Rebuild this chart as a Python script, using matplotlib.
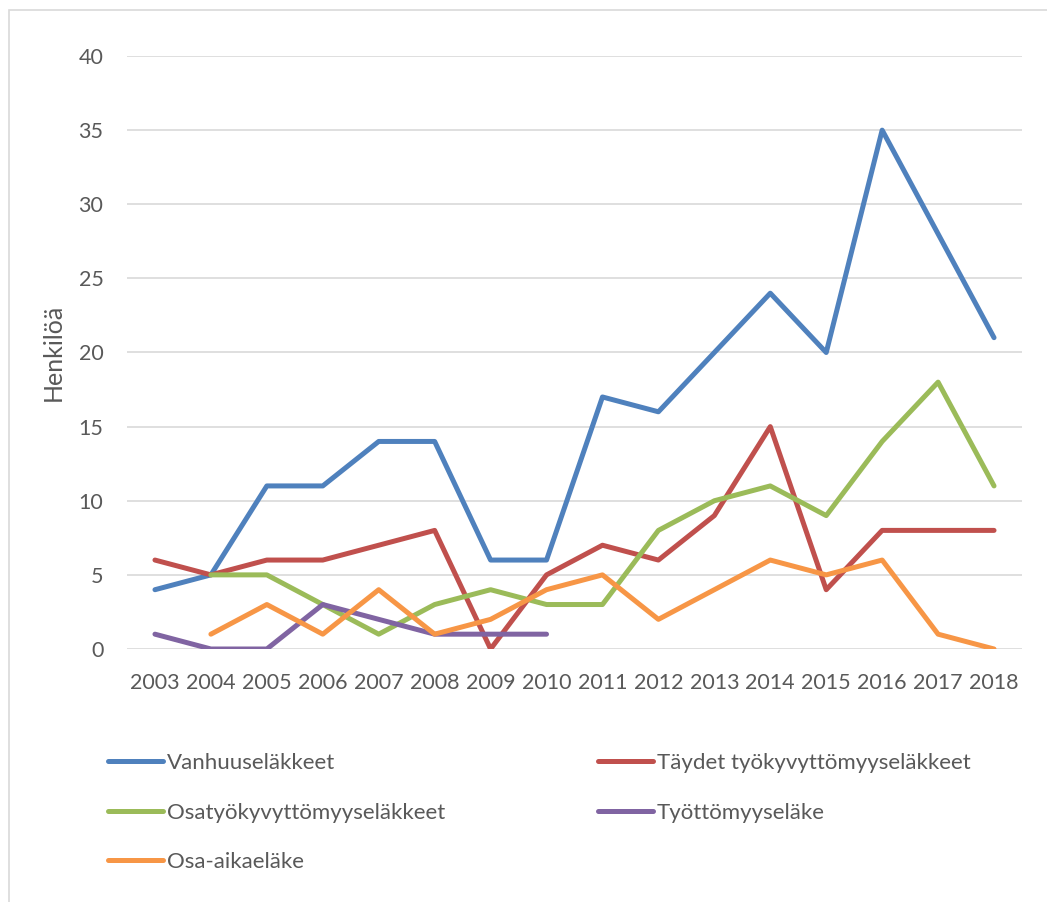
import matplotlib
matplotlib.use("Agg")
import matplotlib.pyplot as plt
from matplotlib.patches import Rectangle
import numpy as np

years = ["2003", "2004", "2005", "2006", "2007", "2008", "2009", "2010",
         "2011", "2012", "2013", "2014", "2015", "2016", "2017", "2018"]
vanhuus = [4, 5, 11, 11, 14, 14, 6, 6, 17, 16, 20, 24, 20, 35, 28, 21]
taydet = [6, 5, 6, 6, 7, 8, 0, 5, 7, 6, 9, 15, 4, 8, 8, 8]
osatyo = [None, 5, 5, 3, 1, 3, 4, 3, 3, 8, 10, 11, 9, 14, 18, 11]
tyottomyys = [1, 0, 0, 3, 2, 1, 1, 1, None, None, None, None, None, None, None, None]
osa_aika = [None, 1, 3, 1, 4, 1, 2, 4, 5, 2, 4, 6, 5, 6, 1, 0]

labels = ["Vanhuuseläkkeet", "Täydet työkyvyttömyyseläkkeet",
          "Osatyökyvyttömyyseläkkeet", "Työttömyyseläke", "Osa-aikaeläke"]
colors = ["#4f81bd", "#c0504d", "#9bbb59", "#8064a2", "#f79646"]
series = [vanhuus, taydet, osatyo, tyottomyys, osa_aika]
yticks = [0, 5, 10, 15, 20, 25, 30, 35, 40]

plt.rcParams['font.family'] = ['Lato', 'DejaVu Sans']
txt = "#595959"

W, H = 1047, 902
fig = plt.figure(figsize=(W / 100, H / 100), dpi=100)
ax = fig.add_axes([127 / W, (H - 649) / H, (1022 - 127) / W, (649 - 56) / H])

x = np.arange(len(years)) + 0.5
handles = []
for vals, lab, col in zip(series, labels, colors):
    y = np.array([np.nan if v is None else v for v in vals], dtype=float)
    h, = ax.plot(x, y, color=col, lw=3.6, label=lab,
                 solid_capstyle='round', solid_joinstyle='round', zorder=3)
    handles.append(h)

ax.set_xlim(0, len(years))
ax.set_ylim(0, 40)
ax.set_yticks(yticks)
ax.set_xticks(x)
ax.set_xticklabels(years)
ax.grid(axis='y', color='#d9d9d9', lw=1.2, zorder=0)
ax.set_axisbelow(True)
for s in ax.spines.values():
    s.set_visible(False)
ax.tick_params(axis='both', length=0, labelsize=15.5, colors=txt)
ax.tick_params(axis='y', pad=17)
ax.tick_params(axis='x', pad=17)
ax.set_ylabel("Henkilöä", fontsize=18, color=txt)
ax.yaxis.set_label_coords(-0.069, 0.5)

leg_kw = dict(frameon=False, fontsize=16, handlelength=2.48, handletextpad=0.18,
              labelspacing=1.33, borderaxespad=0, borderpad=0, loc='upper left')
leg1 = fig.legend([handles[0], handles[2], handles[4]],
                  [labels[0], labels[2], labels[4]],
                  bbox_to_anchor=(108 / W, 1 - 753 / H), **leg_kw)
for t in leg1.get_texts():
    t.set_color(txt)
leg2 = fig.legend([handles[1], handles[3]], [labels[1], labels[3]],
                  bbox_to_anchor=(598 / W, 1 - 753 / H), **leg_kw)
for t in leg2.get_texts():
    t.set_color(txt)

fig.patches.append(Rectangle((9 / W, -0.05), 1.2, 1 - 10 / H + 0.05,
                             transform=fig.transFigure, fill=False,
                             edgecolor='#d9d9d9', lw=1.2))

fig.savefig("out.png", dpi=100)
